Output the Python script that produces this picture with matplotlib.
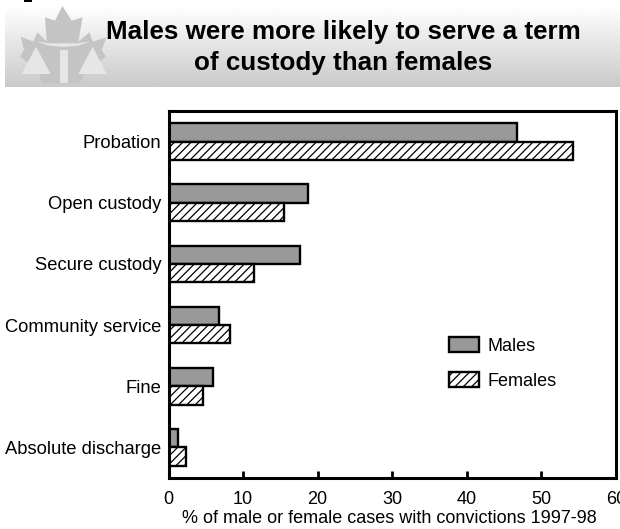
import numpy as np
import matplotlib
matplotlib.use("Agg")
import matplotlib.pyplot as plt
from matplotlib.patches import Polygon, Rectangle

plt.rcParams['font.family'] = ['Liberation Sans', 'DejaVu Sans']
plt.rcParams['hatch.linewidth'] = 0.9

categories = ["Probation", "Open custody", "Secure custody", "Community service", "Fine", "Absolute discharge"]
males = [46.7, 18.7, 17.6, 6.8, 5.9, 1.3]
females = [54.3, 15.5, 11.4, 8.3, 4.6, 2.3]
xticks = [0, 10, 20, 30, 40, 50, 60]
title = "Males were more likely to serve a term\nof custody than females"
xlabel = "% of male or female cases with convictions 1997-98"

W, H = 620, 529
fig = plt.figure(figsize=(W/100, H/100), dpi=100, facecolor='white')

def box(x0, y0, x1, y1):
    return [x0/W, 1-y1/H, (x1-x0)/W, (y1-y0)/H]

# banner with gradient
ban = fig.add_axes(box(4.5, 9, 620, 87))
ban.axis('off')
grad = np.linspace(0.99, 0.79, 64).reshape(-1, 1)
ban.imshow(grad, aspect='auto', cmap='gray', vmin=0, vmax=1, extent=(4.5, 620, 87, 9))
ban.set_xlim(4.5, 620)
ban.set_ylim(87, 9)
leaf = np.array([(187, 18), (215, 62), (248, 52), (235, 125), (268, 97), (278, 125), (320, 112), (305, 150),
                 (318, 170), (290, 190), (297, 222), (250, 222), (240, 250), (125, 250), (118, 222), (75, 222),
                 (85, 190), (60, 170), (72, 150), (62, 110), (100, 125), (112, 97), (140, 125), (135, 52), (165, 62)]) / 3
a = ban.add_patch(Polygon(leaf, closed=True, fc='#c4c4c4', ec='none'))
a.set_clip_on(False)
light = '#e6e6e6'
ban.add_patch(Polygon(np.array([(65, 222), (108, 140), (152, 222)])/3, closed=True, fc=light, ec='none'))
ban.add_patch(Polygon(np.array([(235, 222), (278, 140), (320, 222)])/3, closed=True, fc=light, ec='none'))
ban.add_patch(Rectangle((60, 50), 8.3, 32.7, fc=light, ec='none'))
ban.add_patch(Polygon(np.array([(108, 124), (150, 130), (230, 130), (272, 124), (235, 137), (190, 141), (145, 137)])/3,
                      closed=True, fc=light, ec='none'))
ban.text(343, 47.5, title, ha='center', va='center', fontsize=18.7, fontweight='bold', color='black', linespacing=1.36)

# main chart
ax = fig.add_axes(box(168.5, 111, 616, 478))
y = np.arange(len(categories))
h = 0.30
ax.barh(y-h/2, males, height=h, color='#999999', edgecolor='black', linewidth=1.7, label='Males')
ax.barh(y+h/2, females, height=h, color='white', edgecolor='black', linewidth=1.7, hatch='////', label='Females')
ax.set_xlim(0, 60)
ax.set_ylim(len(categories)-0.5, -0.5)
ax.set_yticks(y)
ax.set_yticklabels(categories, fontsize=13.2, color='black')
ax.tick_params(axis='y', length=0, pad=5)
ax.set_xticks(xticks)
ax.tick_params(axis='x', direction='in', length=5, width=2, pad=9, labelsize=13)
ax.set_xlabel(xlabel, fontsize=13)
ax.xaxis.set_label_coords((389 - 168.5) / 447.5, (478 - 510) / 367)
for s in ax.spines.values():
    s.set_linewidth(2.2)

leg = ax.legend(loc='upper left', bbox_to_anchor=(0.627, 0.385), frameon=False, fontsize=13,
                handlelength=1.67, handleheight=0.95, labelspacing=0.95, handletextpad=0.45, borderpad=0, borderaxespad=0)

# fragment of text cropped at the page top
fig.add_artist(Rectangle((24/W, 1-2/H), 8/W, 2/H, transform=fig.transFigure, fc='black', ec='none'))
fig.savefig('out.png', dpi=100)
